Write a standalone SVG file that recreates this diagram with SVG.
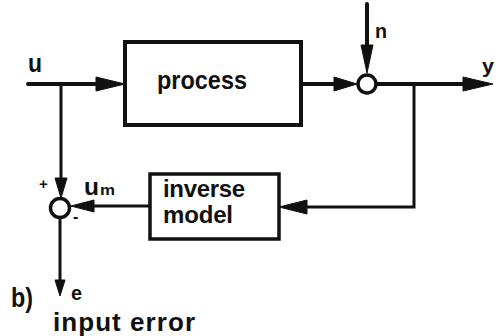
<svg xmlns="http://www.w3.org/2000/svg" width="499" height="336" viewBox="0 0 499 336">
  <style>
    .box { fill: #fff; stroke: #111; stroke-width: 4; }
    .wire { fill: none; stroke: #111; stroke-width: 4; stroke-linecap: round; stroke-linejoin: miter; }
    .thin { stroke-width: 3; }
    .sum { fill: #fff; stroke: #111; stroke-width: 3.5; }
    .head { fill: #111; stroke: #111; stroke-width: 1; stroke-linejoin: round; }
    text { font-family: "Liberation Sans", Arial, sans-serif; font-weight: bold; fill: #111; }
    .lbl { font-size: 24px; }
    .sm { font-size: 20px; }
  </style>

  <!-- connectors -->
  <g id="connectors">
    <!-- input u to process, with branch to comparator -->
    <path class="wire" d="M28 84 H110"/>
    <polygon class="head" points="125,84 96,77 96,91"/>
    <path class="wire thin" d="M61 84 V186"/>
    <polygon class="head" points="61,198 55,178 67,178"/>
    <!-- process to output summing point -->
    <path class="wire" d="M301 84 H345"/>
    <polygon class="head" points="357,84 334,77 334,91"/>
    <!-- disturbance n -->
    <path class="wire" d="M367 4 V60"/>
    <polygon class="head" points="367,73 361,45 373,45"/>
    <!-- output y -->
    <path class="wire" d="M377 84 H478"/>
    <polygon class="head" points="493,84 463,77 463,91"/>
    <!-- feedback to inverse model -->
    <path class="wire thin" d="M414 84 V207 H292"/>
    <polygon class="head" points="279,207 307,200 307,214"/>
    <!-- inverse model output u_m to comparator -->
    <path class="wire thin" d="M150 206 H82"/>
    <polygon class="head" points="71,206 94,200 94,212"/>
    <!-- error e -->
    <path class="wire thin" d="M60 218 V284"/>
    <polygon class="head" points="60,296 55,280 65,280"/>
  </g>

  <g id="input">
    <text x="28" y="72" font-size="25" textLength="14" lengthAdjust="spacingAndGlyphs">u</text>
  </g>

  <g id="process">
    <rect class="box" x="125" y="42" width="176" height="83"/>
    <text x="157" y="89" font-size="25" textLength="90" lengthAdjust="spacingAndGlyphs">process</text>
  </g>

  <g id="inverse-model">
    <rect class="box" x="150" y="174" width="129" height="65" style="stroke-width:3.5"/>
    <text class="lbl" x="163" y="197" textLength="82" lengthAdjust="spacing">inverse</text>
    <text class="lbl" x="163" y="223" textLength="70" lengthAdjust="spacing">model</text>
  </g>

  <g id="sum-output">
    <circle class="sum" cx="367" cy="84" r="9"/>
    <text class="sm" x="375" y="38" textLength="12" lengthAdjust="spacingAndGlyphs">n</text>
    <text class="sm" x="482" y="73" textLength="12" lengthAdjust="spacingAndGlyphs">y</text>
  </g>

  <g id="sum-error">
    <circle class="sum" cx="60" cy="208" r="9.5"/>
    <text x="39" y="189" font-size="15">+</text>
    <text x="73" y="222" font-size="16">-</text>
    <text x="84" y="195" font-size="23" textLength="15" lengthAdjust="spacingAndGlyphs">u</text>
    <text x="100" y="195" font-size="14" textLength="15" lengthAdjust="spacingAndGlyphs">m</text>
  </g>

  <g id="captions">
    <text x="71" y="300" font-size="21" textLength="11" lengthAdjust="spacingAndGlyphs">e</text>
    <text x="11" y="307" font-size="27" textLength="22" lengthAdjust="spacingAndGlyphs">b)</text>
    <text x="53" y="331" font-size="26" textLength="142" lengthAdjust="spacing">input error</text>
  </g>
</svg>
